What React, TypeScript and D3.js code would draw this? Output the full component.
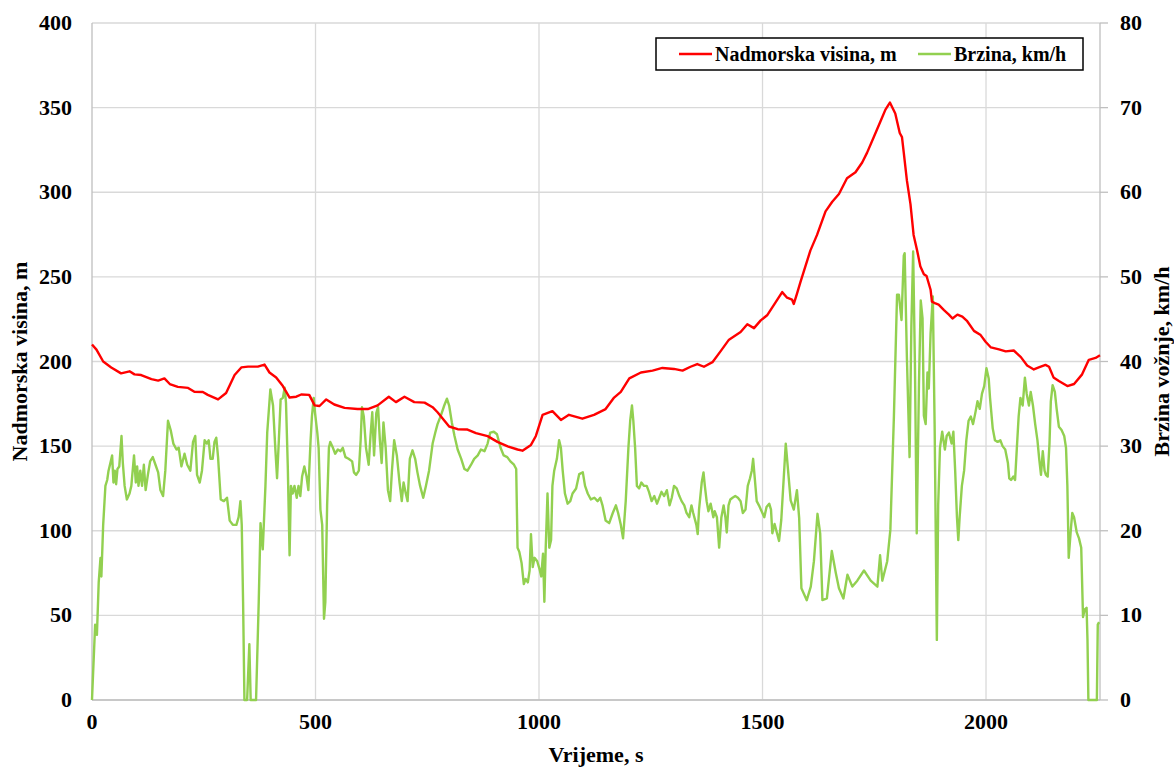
import React from 'react'
import * as d3 from 'd3'

// elevation (m) over time (s)
const elevTime = [0, 10, 25, 43, 65, 84, 95, 110, 133, 148, 162, 174, 192, 215, 229, 248, 259, 282, 300, 319, 334, 349, 371, 386, 397, 412, 427, 442, 457, 468, 486, 498, 509, 524, 542, 565, 594, 617, 639, 664, 680, 699, 721, 744, 762, 773, 799, 818, 840, 859, 885, 907, 930, 952, 963, 982, 993, 1008, 1030, 1049, 1067, 1097, 1123, 1149, 1168, 1183, 1202, 1228, 1254, 1276, 1302, 1321, 1339, 1354, 1369, 1388, 1406, 1425, 1451, 1466, 1481, 1496, 1511, 1527, 1544, 1555, 1566, 1570, 1577, 1585, 1607, 1622, 1641, 1656, 1671, 1689, 1708, 1723, 1734, 1749, 1764, 1775, 1785, 1797, 1807, 1812, 1816, 1823, 1831, 1838, 1846, 1853, 1861, 1867, 1876, 1879, 1887, 1894, 1906, 1917, 1925, 1936, 1947, 1958, 1973, 1988, 1999, 2011, 2029, 2044, 2062, 2078, 2092, 2107, 2118, 2133, 2141, 2151, 2163, 2182, 2197, 2215, 2230, 2245, 2255]
const elevValues = [210, 207, 200, 196.5, 193, 194.2, 192.4, 192, 189.6, 188.7, 190, 186.7, 185, 184.4, 182.1, 182, 180.3, 177.6, 181.4, 192, 196.5, 197, 197, 198.2, 193.5, 190.6, 185.5, 178.7, 179.2, 180.5, 180.3, 174.1, 173.7, 177.6, 174.6, 172.6, 171.9, 171.9, 174.1, 179.2, 176, 179.2, 176, 175.7, 173, 170, 161.6, 160, 159.8, 157.7, 155.9, 152.5, 149.8, 148, 147.3, 150.7, 156, 168.5, 170.7, 165.5, 168.5, 166.2, 168.5, 171.9, 178.7, 182.1, 190, 193.5, 194.6, 196.2, 195.6, 194.6, 196.9, 198.5, 196.9, 199.6, 206, 212.9, 217.4, 222, 219.7, 224.3, 227.5, 234, 241, 237.7, 236.6, 234, 240, 247, 265.5, 274.8, 288.7, 294.4, 299, 308.3, 311.8, 317.6, 323.4, 332.6, 341.9, 348.8, 353, 346.5, 335, 332.6, 323.4, 307, 293, 274.8, 265.5, 256.3, 251.6, 250.5, 242.4, 235.4, 234.3, 233.6, 230.4, 227.7, 225.4, 227.7, 226.5, 223.8, 218.1, 215.6, 211.7, 208.3, 207.2, 206, 206.5, 202.6, 197.6, 195.3, 196.5, 198, 196.9, 190.6, 188.5, 185.5, 186.7, 192.4, 201, 202.1, 203.7]

// driving speed (km/h) over time (s)
const speedTime = [0, 7, 11, 15, 19, 21, 25, 30, 34, 37, 42, 45, 48, 51, 54, 57, 61, 66, 69, 73, 78, 84, 88, 94, 98, 101, 104, 108, 112, 116, 120, 125, 130, 136, 142, 148, 153, 159, 164, 170, 176, 182, 189, 194, 200, 207, 213, 220, 226, 231, 235, 241, 246, 252, 257, 261, 265, 270, 274, 278, 282, 288, 295, 302, 308, 315, 323, 328, 332, 335, 338, 341, 347, 352, 355, 367, 373, 377, 382, 388, 392, 399, 405, 410, 414, 418, 422, 427, 431, 434, 438, 442, 445, 449, 453, 458, 462, 466, 470, 475, 480, 484, 489, 492, 496, 499, 504, 507, 511, 515, 519, 522, 526, 530, 533, 539, 544, 550, 556, 561, 567, 574, 582, 586, 591, 597, 601, 604, 608, 613, 619, 623, 627, 631, 636, 640, 644, 648, 652, 657, 662, 667, 671, 676, 682, 688, 693, 697, 702, 706, 711, 717, 723, 728, 734, 741, 747, 754, 762, 768, 773, 781, 788, 794, 799, 805, 811, 818, 826, 833, 840, 848, 855, 863, 870, 878, 885, 891, 899, 906, 914, 921, 929, 936, 944, 949, 952, 956, 961, 966, 970, 975, 979, 982, 986, 990, 996, 1001, 1005, 1009, 1012, 1015, 1019, 1023, 1027, 1030, 1034, 1040, 1045, 1049, 1053, 1058, 1064, 1070, 1075, 1083, 1090, 1098, 1103, 1109, 1116, 1124, 1131, 1137, 1142, 1149, 1157, 1165, 1172, 1177, 1183, 1188, 1194, 1200, 1204, 1208, 1211, 1215, 1219, 1224, 1229, 1235, 1241, 1246, 1252, 1258, 1264, 1269, 1274, 1280, 1286, 1292, 1297, 1302, 1308, 1314, 1319, 1325, 1330, 1336, 1341, 1345, 1352, 1355, 1358, 1364, 1368, 1371, 1375, 1379, 1384, 1390, 1393, 1398, 1403, 1408, 1413, 1417, 1420, 1424, 1428, 1433, 1439, 1445, 1451, 1456, 1462, 1467, 1472, 1476, 1479, 1483, 1487, 1492, 1498, 1504, 1509, 1515, 1519, 1522, 1527, 1537, 1542, 1552, 1563, 1570, 1577, 1582, 1587, 1599, 1608, 1615, 1623, 1629, 1634, 1644, 1655, 1664, 1671, 1681, 1690, 1701, 1712, 1727, 1742, 1757, 1763, 1768, 1779, 1786, 1794, 1801, 1805, 1811, 1816, 1818, 1823, 1829, 1833, 1837, 1841, 1845, 1850, 1854, 1858, 1861, 1865, 1869, 1872, 1876, 1881, 1885, 1890, 1893, 1897, 1902, 1908, 1912, 1917, 1923, 1927, 1931, 1935, 1938, 1941, 1946, 1951, 1956, 1961, 1966, 1971, 1976, 1981, 1986, 1991, 1996, 2001, 2006, 2009, 2015, 2020, 2026, 2032, 2037, 2043, 2049, 2052, 2056, 2061, 2065, 2069, 2073, 2077, 2082, 2087, 2091, 2096, 2100, 2105, 2110, 2115, 2119, 2123, 2127, 2131, 2134, 2138, 2142, 2145, 2149, 2154, 2158, 2163, 2169, 2175, 2179, 2182, 2185, 2190, 2193, 2197, 2203, 2208, 2213, 2217, 2221, 2225, 2227, 2229, 2248, 2250, 2253]
const speedValues = [0, 8.9, 7.7, 13.9, 16.8, 14.6, 20.7, 25.3, 26, 27.1, 28.2, 28.9, 25.7, 27.1, 25.5, 27.3, 27.6, 31.2, 28, 25.3, 23.7, 24.4, 25.3, 28.9, 25.7, 27.6, 25.3, 27.1, 25.3, 27.8, 24.8, 26.6, 28.2, 28.7, 27.8, 26.9, 24.8, 24.1, 27.1, 33, 31.9, 30.3, 29.6, 29.8, 27.6, 29.1, 27.8, 27.1, 30.5, 31.2, 26.6, 25.7, 27.1, 30.7, 30.3, 30.7, 28.5, 28.5, 30.5, 31, 28.7, 23.7, 23.5, 23.9, 21.2, 20.7, 20.7, 21.6, 23.5, 20.7, 11.6, 0, 0, 6.6, 0, 0, 11.6, 20.9, 17.8, 25.3, 31.6, 36.7, 34.8, 29.8, 26.2, 30.7, 35.5, 35.7, 36.9, 35.1, 27.6, 17.1, 25.3, 24.4, 25.3, 23.9, 25.3, 24.1, 26.4, 27.6, 26.4, 24.8, 30.7, 33.5, 35.7, 33.9, 31.6, 29.8, 22.5, 20.7, 9.6, 11.6, 23, 29.8, 30.5, 29.8, 29.1, 29.6, 29.4, 29.8, 28.7, 28.5, 28.2, 26.9, 26.6, 27.1, 30.7, 34.6, 33.5, 29.8, 27.8, 31.2, 34, 28.9, 33.9, 34.6, 30.7, 28, 32.8, 29.8, 24.8, 23.5, 27.1, 30.7, 28.9, 25.7, 23.5, 25.7, 24.4, 23.5, 28.5, 29.5, 28.5, 26.9, 25.3, 23.9, 25.3, 27.1, 30.3, 31.6, 32.6, 33.7, 34.8, 35.6, 34.8, 32.8, 31.2, 29.6, 28.5, 27.3, 27.1, 27.8, 28.5, 28.9, 29.6, 29.4, 30.3, 31.6, 31.7, 31.4, 29.8, 28.9, 28.7, 28.2, 27.8, 27.3, 18, 17.5, 16.2, 13.7, 14.3, 13.9, 15.3, 19.6, 15.7, 16.8, 16.4, 15.5, 14.6, 17.3, 11.6, 18, 24.4, 18, 18.9, 25.3, 27.1, 28.5, 30.7, 29.8, 27.1, 24.4, 23.2, 23.5, 24.4, 25, 26.7, 26.9, 25.3, 24.4, 23.7, 23.9, 23.5, 23.9, 23, 21.2, 20.9, 22.1, 23, 22.1, 20.7, 19.1, 23.5, 29.8, 33, 34.8, 33, 29.8, 25.3, 25, 25.7, 25.3, 25.3, 24.6, 23.5, 24.1, 23.2, 23.9, 24.6, 24.1, 24.8, 23, 23.9, 25.3, 25, 24.1, 23.5, 23, 22.1, 21.6, 23, 22.1, 20.7, 19.6, 22.5, 25.7, 26.9, 25.3, 23.5, 22.3, 23.2, 21.6, 22.3, 21.6, 18, 21.6, 23, 21.6, 19.8, 23, 23.7, 23.9, 24.1, 23.9, 23.5, 22.1, 22.5, 25.3, 26.2, 27.1, 28.5, 26, 23.5, 23, 22.3, 21.6, 22.8, 23.2, 22.5, 19.7, 20.8, 18.8, 21.3, 30.3, 23.6, 22.5, 24.8, 21.5, 13.2, 11.8, 13.4, 16.4, 22, 19.7, 11.8, 12, 17.6, 15, 13.2, 12, 14.8, 13.4, 14.1, 15.3, 14.1, 13.4, 17.1, 14.1, 16.4, 20.1, 33.6, 47.9, 47.9, 44.9, 52.5, 52.8, 40.5, 28.7, 44.2, 53, 39.6, 19.7, 37.3, 47.2, 45.1, 33.6, 32.6, 38.7, 36.8, 43.3, 47.7, 32.6, 7.1, 23, 29.8, 31.7, 29.6, 31.2, 31.6, 30.3, 31.7, 27.1, 21.6, 18.9, 21.6, 25.3, 27.1, 30.7, 33, 33.5, 32.6, 33.9, 35.3, 34.4, 36.2, 37.1, 39.2, 38, 35.7, 32.1, 30.7, 30.5, 30.7, 30, 29.6, 28, 26.2, 26, 26.4, 26, 29.8, 33.5, 35.7, 34.8, 38.1, 36.2, 34.8, 36.4, 34.8, 32.6, 30.7, 28.5, 26.6, 29.4, 27.1, 26.6, 26.4, 30.3, 35.3, 37.2, 36.4, 34.4, 32.3, 31.9, 31.2, 29.8, 25.3, 16.8, 20.3, 22.1, 21.6, 19.8, 19.1, 18, 9.8, 10.7, 10.9, 7.1, 0, 0, 8.9, 9.2]

const timeTicks = [0, 500, 1000, 1500, 2000]
const elevTicks = [0, 50, 100, 150, 200, 250, 300, 350, 400]
const speedTicks = [0, 10, 20, 30, 40, 50, 60, 70, 80]

const W = 1174
const H = 769
const m = { left: 92, right: 1100, top: 23, bottom: 700 }
const FONT = '"Liberation Serif", "Times New Roman", serif'

export default function App() {
  const x = d3.scaleLinear().domain([0, 2255]).range([m.left, m.right])
  const yL = d3.scaleLinear().domain([0, 400]).range([m.bottom, m.top])
  const yR = d3.scaleLinear().domain([0, 80]).range([m.bottom, m.top])

  const elevPts: [number, number][] = elevTime.map((t, i) => [t, elevValues[i]])
  const speedPts: [number, number][] = speedTime.map((t, i) => [t, speedValues[i]])

  const elevLine = d3.line<[number, number]>().x(d => x(d[0])).y(d => yL(d[1]))
  const speedLine = d3.line<[number, number]>().x(d => x(d[0])).y(d => yR(d[1]))

  return (
    <svg width={W} height={H} style={{ position: 'absolute', left: 0, top: 0, background: '#fff' }}
      fontFamily={FONT} fontWeight="bold">
      {/* grid */}
      {elevTicks.map(v => (
        <line key={'h' + v} x1={m.left} x2={m.right} y1={yL(v)} y2={yL(v)} stroke="#d9d9d9" strokeWidth={1.3} />
      ))}
      {timeTicks.filter(t => t > 0).map(t => (
        <line key={'v' + t} x1={x(t)} x2={x(t)} y1={m.top} y2={m.bottom} stroke="#d9d9d9" strokeWidth={1.3} />
      ))}
      {/* axis lines */}
      <line x1={m.left} x2={m.left} y1={m.top} y2={m.bottom} stroke="#bfbfbf" strokeWidth={1.3} />
      <line x1={m.right} x2={m.right} y1={m.top} y2={m.bottom} stroke="#bfbfbf" strokeWidth={1.3} />
      <line x1={m.left} x2={m.right} y1={m.bottom} y2={m.bottom} stroke="#bfbfbf" strokeWidth={1.5} />
      {speedTicks.map(v => (
        <line key={'rt' + v} x1={m.right} x2={m.right + 8} y1={yR(v)} y2={yR(v)} stroke="#bfbfbf" strokeWidth={1.3} />
      ))}

      {/* series */}
      <path d={speedLine(speedPts) || ''} fill="none" stroke="#92d050" strokeWidth={2.4} strokeLinejoin="round" />
      <path d={elevLine(elevPts) || ''} fill="none" stroke="#ff0000" strokeWidth={2.4} strokeLinejoin="round" />

      {/* tick labels */}
      {elevTicks.map(v => (
        <text key={'lt' + v} x={m.left - 20} y={yL(v) + 7} textAnchor="end" fontSize={22}>{v}</text>
      ))}
      {speedTicks.map(v => (
        <text key={'rl' + v} x={m.right + 20} y={yR(v) + 7} textAnchor="start" fontSize={22}>{v}</text>
      ))}
      {timeTicks.map(t => (
        <text key={'bt' + t} x={x(t)} y={m.bottom + 29} textAnchor="middle" fontSize={22}>{t}</text>
      ))}

      {/* axis titles */}
      <text x={(m.left + m.right) / 2} y={762} textAnchor="middle" fontSize={22}>Vrijeme, s</text>
      <text transform={`translate(27,${(m.top + m.bottom) / 2}) rotate(-90)`} textAnchor="middle" fontSize={22}>Nadmorska visina, m</text>
      <text transform={`translate(1169,${(m.top + m.bottom) / 2}) rotate(-90)`} textAnchor="middle" fontSize={22}>Brzina vožnje, km/h</text>

      {/* legend */}
      <rect x={656} y={38} width={427} height={32} fill="#fff" stroke="#000" strokeWidth={1.5} />
      <line x1={679} x2={712} y1={54} y2={54} stroke="#ff0000" strokeWidth={2.4} />
      <text x={715} y={61} fontSize={20}>Nadmorska visina, m</text>
      <line x1={918} x2={951} y1={54} y2={54} stroke="#92d050" strokeWidth={2.4} />
      <text x={954} y={61} fontSize={20}>Brzina, km/h</text>
    </svg>
  )
}
